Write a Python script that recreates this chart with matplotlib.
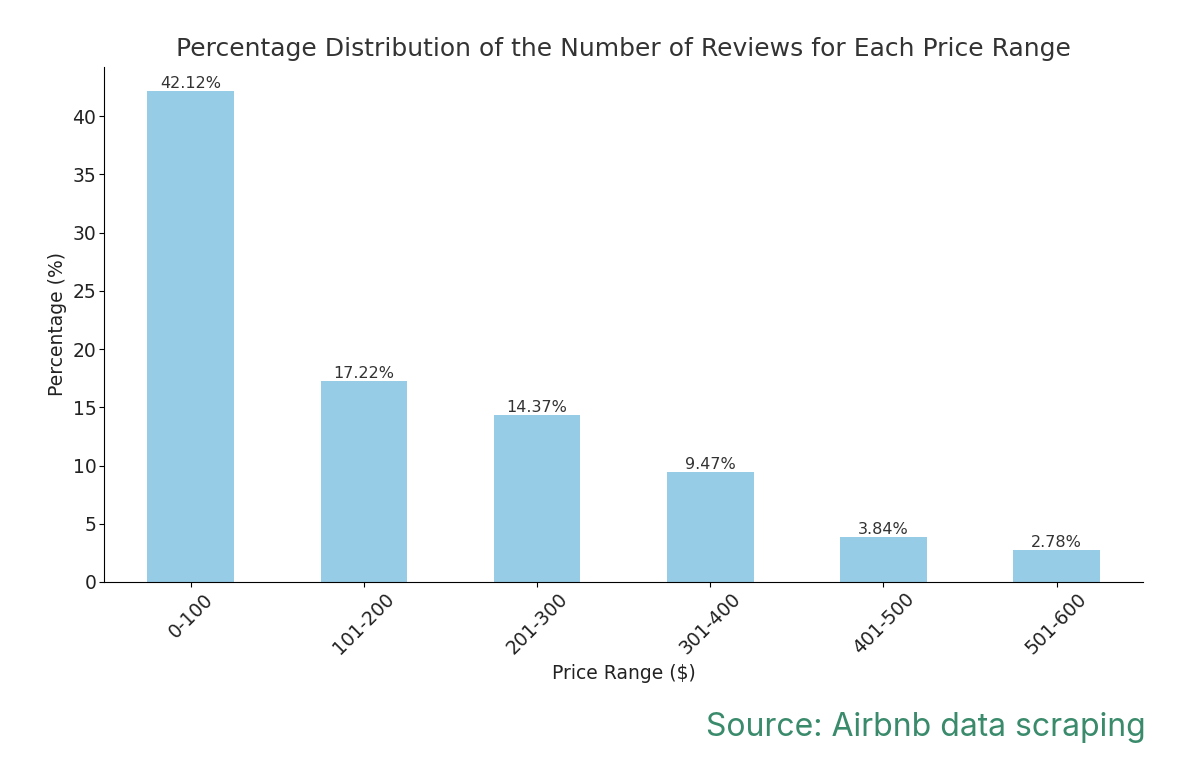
import matplotlib
matplotlib.use("Agg")
from matplotlib import pyplot as plt

price_ranges = ["0-100", "101-200", "201-300", "301-400", "401-500", "501-600"]
percentages = [42.12, 17.22, 14.37, 9.47, 3.84, 2.78]

text_color = "#333333"

fig = plt.figure(figsize=(12, 7.68), dpi=100)
ax = fig.add_axes([0.0867, 0.2422, 0.866, 0.6706])

x = range(len(price_ranges))
bars = ax.bar(x, percentages, width=0.5, color="#97cce7")
ax.set_xlim(-0.5, len(price_ranges) - 0.5)

for bar, pct in zip(bars, percentages):
    ax.text(bar.get_x() + bar.get_width() / 2, bar.get_height(), f"{pct:.2f}%",
            ha="center", va="bottom", fontsize=11.5, color=text_color)

ax.set_xticks(list(x))
ax.set_xticklabels(price_ranges, rotation=45, fontsize=13.5, color="#222222")
ax.tick_params(axis="y", labelsize=13.5, labelcolor="#222222", pad=2)
ax.tick_params(axis="x", pad=2)
ax.set_title("Percentage Distribution of the Number of Reviews for Each Price Range",
             fontsize=18, color=text_color, pad=8)
ax.set_xlabel("Price Range ($)", fontsize=13.5, color="#222222")
ax.set_ylabel("Percentage (%)", fontsize=13.5, color="#222222")

ax.spines["top"].set_visible(False)
ax.spines["right"].set_visible(False)

fig.text(0.955, 0.033, "Source: Airbnb data scraping", ha="right", va="bottom",
         fontsize=23, color="#3a8a6c", family="Inter")

fig.savefig("out.png", dpi=100)
